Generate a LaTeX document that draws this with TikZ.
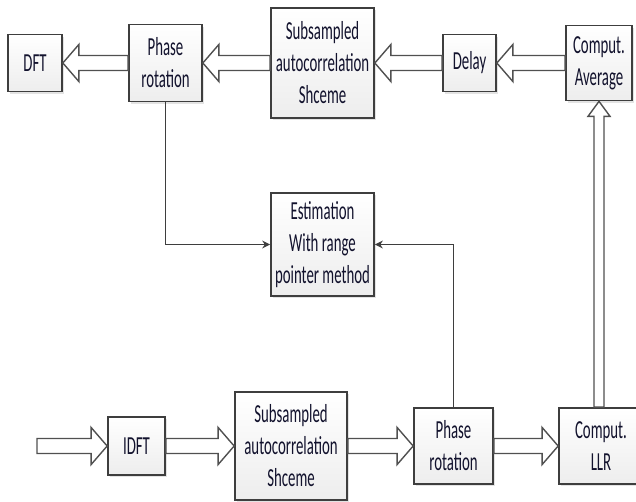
\documentclass[tikz,border=0pt]{standalone}
\usepackage{fontspec}
\setmainfont{Carlito}[FakeStretch=0.57]
\usetikzlibrary{arrows.meta,calc,shadows}
\definecolor{edgegrey}{RGB}{62,62,62}
\definecolor{textink}{RGB}{18,18,45}
\definecolor{arrowgrey}{RGB}{80,80,80}
\tikzset{
  base/.style={font=\fontsize{26}{32}\selectfont, align=center, inner sep=2pt, text=textink},
  box/.style={base, rectangle, draw=edgegrey, line width=1.7pt, top color=white, bottom color=gray!14, drop shadow={shadow xshift=2pt,shadow yshift=-2pt,opacity=0.22}},
  link/.style={-{Stealth[length=8pt,width=8pt]}, line width=1.7pt, draw=edgegrey},
  fat/.style={draw=arrowgrey, fill=white, line width=1.4pt, line join=miter},
}
% hollow block arrow: from #1 to #2, shaft half width #3, head half width #4, head length #5
\newcommand{\fatarrow}[5]{%
  \draw[fat] ($(#1)!#3!90:(#2)$) -- ($(#2)!#5!(#1)!#3!-90:(#1)$) -- ($(#2)!#5!(#1)!#4!-90:(#1)$)
    -- (#2) -- ($(#2)!#5!(#1)!#4!90:(#1)$) -- ($(#2)!#5!(#1)!#3!90:(#1)$) -- ($(#1)!#3!-90:(#2)$) -- cycle;}

\begin{document}
\begin{tikzpicture}[x=1pt,y=-1pt]
  \useasboundingbox (0,0) rectangle (636,501);
  % top row
  \node[box,minimum width=54pt,minimum height=57pt]  (dft)   at (35,63)    {DFT};
  \node[box,minimum width=73pt,minimum height=77pt]  (prtop) at (165.5,63) {Phase\\rotation};
  \node[box,minimum width=103pt,minimum height=110pt] (sstop) at (322.5,63) {Subsampled\\autocorrelation\\Shceme};
  \node[box,minimum width=53pt,minimum height=57pt]  (delay) at (469.5,63) {Delay};
  \node[box,minimum width=66pt,minimum height=75pt]  (avg)   at (599,63)   {Comput.\\Average};
  % middle
  \node[box,minimum width=103pt,minimum height=103pt] (est) at (322.5,244.5) {Estimation\\With range\\pointer method};
  % bottom row
  \coordinate (src) at (37,446);
  \node[box,minimum width=57pt,minimum height=58pt]  (idft)  at (136.5,446) {IDFT};
  \node[box,minimum width=112pt,minimum height=108pt] (ssbot) at (291,446)  {Subsampled\\autocorrelation\\Shceme};
  \node[box,minimum width=79pt,minimum height=76pt]  (prbot) at (453.5,446) {Phase\\rotation};
  \node[box,minimum width=84pt,minimum height=76pt]  (llr)   at (601,446)   {Comput.\\LLR};
  % block arrows
  \foreach \a/\b in {sstop/prtop,prtop/dft,avg/delay,delay/sstop}{\fatarrow{\a.west}{\b.east}{7.5pt}{18.5pt}{16pt}}
  \foreach \a/\b in {idft/ssbot,ssbot/prbot,prbot/llr}{\fatarrow{\a.east}{\b.west}{7.5pt}{18.5pt}{16pt}}
  \fatarrow{src}{idft.west}{7.5pt}{18.5pt}{16pt}
  \fatarrow{llr.north -| avg.south}{avg.south}{5pt}{11pt}{15pt}
  % estimation links
  \draw[link] (prtop.south) |- (est.west);
  \draw[link] (prbot.north) |- (est.east);
\end{tikzpicture}
\end{document}
